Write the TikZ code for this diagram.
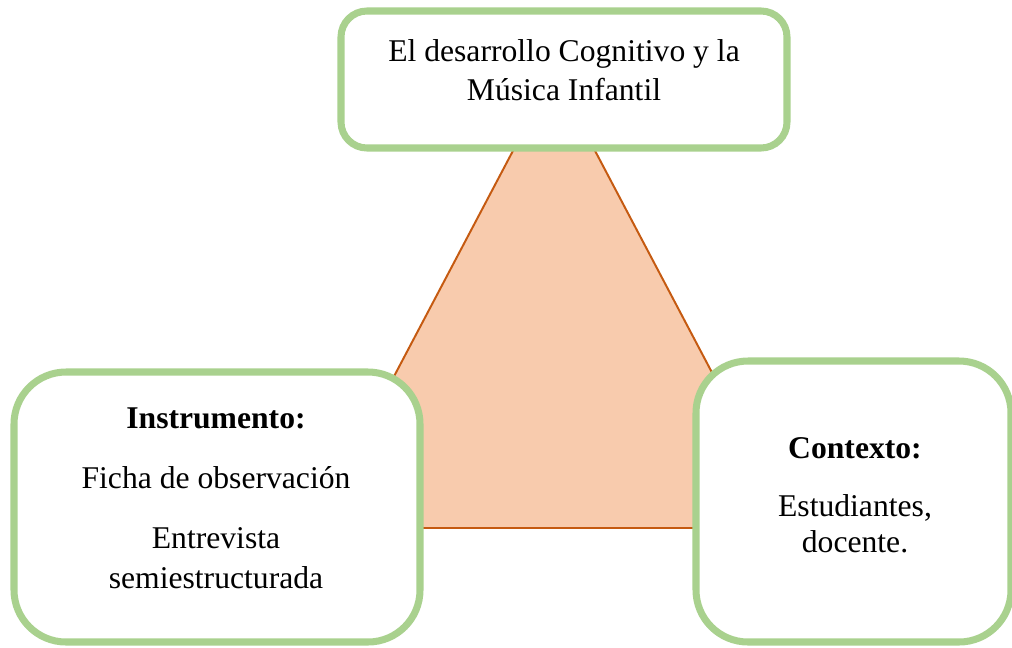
\documentclass[tikz,border=0pt]{standalone}
\usepackage{fontspec}
\setmainfont{Liberation Serif}
\definecolor{boxgreen}{HTML}{A9D18E}
\definecolor{trifill}{HTML}{F8CBAD}
\definecolor{triedge}{HTML}{C55A11}
\tikzset{
  greenbox/.style={draw=boxgreen, line width=5pt, fill=white},
  txt/.style={anchor=base, inner sep=0pt, font=\fontsize{22.5}{27}\selectfont},
}
\begin{document}
\begin{tikzpicture}[x=0.025cm, y=-0.025cm]
                \useasboundingbox (0,0) rectangle (1012,647);
                % triangle behind the boxes
                \draw[triedge, fill=trifill, line width=1.4pt] (314,528) -- (794,528) -- (554,73) -- cycle;

                \draw[greenbox, rounded corners=0.65cm] (341,11) rectangle (787,148);
                \node[txt] (top1) at (564,61) {El desarrollo Cognitivo y la};
                \node[txt] (top2) at (564,100) {Música Infantil};

                \draw[greenbox, rounded corners=1.3cm] (14,372) rectangle (420,642);
                \node[txt] (ins) at (216,428) {\bfseries Instrumento:};
                \node[txt] (ins1) at (216,488) {Ficha de observación};
                \node[txt] (ins2) at (216,548) {Entrevista};
                \node[txt] (ins3) at (216,588) {semiestructurada};

                \draw[greenbox, rounded corners=1.3cm] (696,361) rectangle (1011,642);
                \node[txt] (ctx) at (855,458) {\bfseries Contexto:};
                \node[txt] (ctx1) at (855,516) {Estudiantes,};
                \node[txt] (ctx2) at (855,552) {docente.};
            \end{tikzpicture}
\end{document}
